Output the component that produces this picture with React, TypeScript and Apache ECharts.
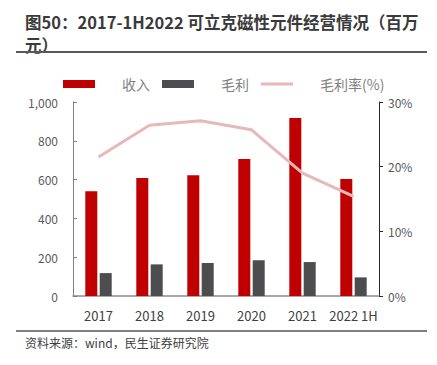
import React, { useEffect, useRef } from "react";
import * as echarts from "echarts";

const categories = ["2017", "2018", "2019", "2020", "2021", "2022 1H"];
const revenue = [540, 608, 623, 706, 918, 603];
const grossProfit = [118, 163, 170, 184, 175, 96];
const grossMargin = [21.5, 26.4, 27.1, 25.7, 19.0, 15.4];
const leftTicks = { min: 0, max: 1000, interval: 200 };
const rightTicks = { min: 0, max: 30, interval: 10 };

const titleLine1 = "图50：2017-1H2022 可立克磁性元件经营情况（百万";
const titleLine2 = "元）";
const sourceText = "资料来源：wind，民生证券研究院";

const FONT = '"Noto Sans CJK SC", "Noto Sans", sans-serif';

export default function App() {
  const ref = useRef<HTMLDivElement>(null);
  useEffect(() => {
    if (!ref.current) return;
    const chart = echarts.init(ref.current, undefined, { renderer: "svg" });
    chart.setOption({
      animation: false,
      backgroundColor: "#ffffff",
      textStyle: { fontFamily: FONT },
      graphic: [
        {
          type: "text",
          left: 25,
          top: 14,
          style: { text: titleLine1, font: `bold 16.5px ${FONT}`, fill: "#3a3a3a", lineHeight: 16 },
        },
        {
          type: "text",
          left: 25,
          top: 37,
          style: { text: titleLine2, font: `bold 16.5px ${FONT}`, fill: "#3a3a3a", lineHeight: 16 },
        },
        {
          type: "rect",
          shape: { x: 16, y: 51, width: 411, height: 2 },
          style: { fill: "#595959" },
        },
        {
          type: "rect",
          shape: { x: 16, y: 330, width: 411, height: 2 },
          style: { fill: "#7f7f7f" },
        },
        {
          type: "text",
          left: 25,
          top: 336,
          style: { text: sourceText, font: `12px ${FONT}`, fill: "#404040" },
        },
      ],
      legend: {
        left: 58,
        top: 72,
        itemWidth: 32,
        itemHeight: 8,
        itemGap: 12,
        textStyle: {
          fontSize: 14,
          color: "#7f7f7f",
          padding: [0, 0, 0, 22],
          fontFamily: FONT,
        },
        data: [
          { name: "收入", icon: "rect" },
          { name: "毛利", icon: "rect" },
          { name: "毛利率(%)", icon: "path://M0,0 L32,0 L32,3 L0,3 Z" },
        ],
      },
      grid: { left: 73, right: 58, top: 102, bottom: 69 },
      xAxis: {
        type: "category",
        data: categories,
        axisLine: { lineStyle: { color: "#8c8c8c", width: 1.5 } },
        axisTick: { show: false },
        axisLabel: { interval: 0, fontSize: 13, color: "#404040", margin: 13, fontFamily: FONT },
      },
      yAxis: [
        {
          type: "value",
          ...leftTicks,
          axisLine: { show: true, lineStyle: { color: "#7f7f7f" } },
          axisTick: { show: true, inside: true, length: 4, lineStyle: { color: "#7f7f7f" } },
          splitLine: { show: false },
          axisLabel: {
            fontSize: 12,
            color: "#595959",
            margin: 15,
            fontFamily: FONT,
            formatter: (v: number) => v.toLocaleString("en-US"),
          },
        },
        {
          type: "value",
          ...rightTicks,
          position: "right",
          axisLine: { show: true, lineStyle: { color: "#262626" } },
          axisTick: { show: true, inside: false, length: 4, lineStyle: { color: "#262626" } },
          splitLine: { show: false },
          axisLabel: {
            fontSize: 12,
            color: "#595959",
            margin: 9,
            fontFamily: FONT,
            formatter: "{value}%",
          },
        },
      ],
      series: [
        {
          name: "收入",
          type: "bar",
          data: revenue,
          barWidth: 12,
          barGap: "20%",
          itemStyle: { color: "#c00000" },
        },
        {
          name: "毛利",
          type: "bar",
          data: grossProfit,
          barWidth: 12,
          barGap: "20%",
          itemStyle: { color: "#4d4d4f" },
        },
        {
          name: "毛利率(%)",
          type: "line",
          yAxisIndex: 1,
          data: grossMargin,
          symbol: "none",
          lineStyle: { color: "#e6b9b8", width: 3 },
          itemStyle: { color: "#e6b9b8" },
        },
      ],
    });
    return () => chart.dispose();
  }, []);
  return (
    <div
      ref={ref}
      style={{ position: "fixed", left: 0, top: 0, width: 437, height: 365 }}
    />
  );
}
